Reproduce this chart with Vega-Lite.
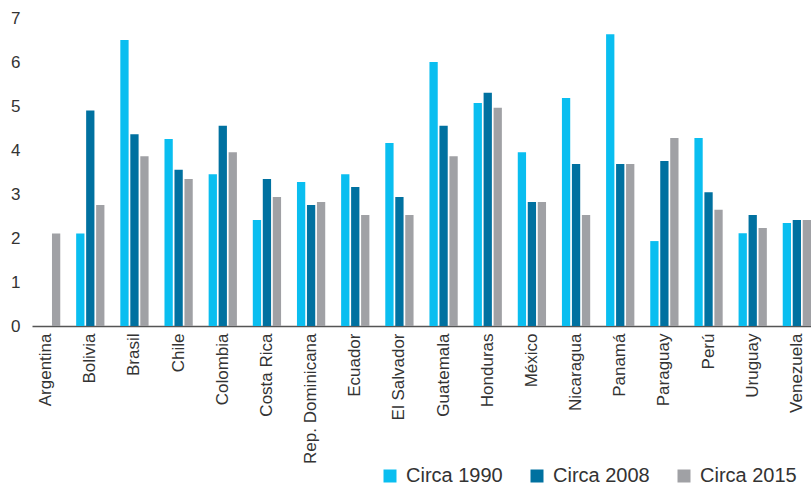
{
  "$schema": "https://vega.github.io/schema/vega-lite/v6.json",
  "width": 779,
  "height": 308,
  "autosize": {"type": "none"},
  "padding": {"left": 32, "top": 18, "right": 0, "bottom": 159},
  "background": "white",
  "config": {
    "view": {"stroke": null},
    "font": "Liberation Sans",
    "axis": {"labelColor": "#333333", "labelFont": "Liberation Sans"},
    "legend": {"labelColor": "#333333", "labelFont": "Liberation Sans"}
  },
  "data": {
    "values": [
      {"pais": "Argentina", "serie": "Circa 2015", "valor": 2.1},
      {"pais": "Bolivia", "serie": "Circa 1990", "valor": 2.1},
      {"pais": "Bolivia", "serie": "Circa 2008", "valor": 4.9},
      {"pais": "Bolivia", "serie": "Circa 2015", "valor": 2.75},
      {"pais": "Brasil", "serie": "Circa 1990", "valor": 6.5},
      {"pais": "Brasil", "serie": "Circa 2008", "valor": 4.36},
      {"pais": "Brasil", "serie": "Circa 2015", "valor": 3.86},
      {"pais": "Chile", "serie": "Circa 1990", "valor": 4.25},
      {"pais": "Chile", "serie": "Circa 2008", "valor": 3.55},
      {"pais": "Chile", "serie": "Circa 2015", "valor": 3.34},
      {"pais": "Colombia", "serie": "Circa 1990", "valor": 3.45},
      {"pais": "Colombia", "serie": "Circa 2008", "valor": 4.55},
      {"pais": "Colombia", "serie": "Circa 2015", "valor": 3.95},
      {"pais": "Costa Rica", "serie": "Circa 1990", "valor": 2.41},
      {"pais": "Costa Rica", "serie": "Circa 2008", "valor": 3.34},
      {"pais": "Costa Rica", "serie": "Circa 2015", "valor": 2.93},
      {"pais": "Rep. Dominicana", "serie": "Circa 1990", "valor": 3.27},
      {"pais": "Rep. Dominicana", "serie": "Circa 2008", "valor": 2.75},
      {"pais": "Rep. Dominicana", "serie": "Circa 2015", "valor": 2.82},
      {"pais": "Ecuador", "serie": "Circa 1990", "valor": 3.45},
      {"pais": "Ecuador", "serie": "Circa 2008", "valor": 3.16},
      {"pais": "Ecuador", "serie": "Circa 2015", "valor": 2.52},
      {"pais": "El Salvador", "serie": "Circa 1990", "valor": 4.16},
      {"pais": "El Salvador", "serie": "Circa 2008", "valor": 2.93},
      {"pais": "El Salvador", "serie": "Circa 2015", "valor": 2.52},
      {"pais": "Guatemala", "serie": "Circa 1990", "valor": 6.0},
      {"pais": "Guatemala", "serie": "Circa 2008", "valor": 4.55},
      {"pais": "Guatemala", "serie": "Circa 2015", "valor": 3.86},
      {"pais": "Honduras", "serie": "Circa 1990", "valor": 5.07},
      {"pais": "Honduras", "serie": "Circa 2008", "valor": 5.3},
      {"pais": "Honduras", "serie": "Circa 2015", "valor": 4.96},
      {"pais": "México", "serie": "Circa 1990", "valor": 3.95},
      {"pais": "México", "serie": "Circa 2008", "valor": 2.82},
      {"pais": "México", "serie": "Circa 2015", "valor": 2.82},
      {"pais": "Nicaragua", "serie": "Circa 1990", "valor": 5.18},
      {"pais": "Nicaragua", "serie": "Circa 2008", "valor": 3.68},
      {"pais": "Nicaragua", "serie": "Circa 2015", "valor": 2.52},
      {"pais": "Panamá", "serie": "Circa 1990", "valor": 6.63},
      {"pais": "Panamá", "serie": "Circa 2008", "valor": 3.68},
      {"pais": "Panamá", "serie": "Circa 2015", "valor": 3.68},
      {"pais": "Paraguay", "serie": "Circa 1990", "valor": 1.93},
      {"pais": "Paraguay", "serie": "Circa 2008", "valor": 3.75},
      {"pais": "Paraguay", "serie": "Circa 2015", "valor": 4.27},
      {"pais": "Perú", "serie": "Circa 1990", "valor": 4.27},
      {"pais": "Perú", "serie": "Circa 2008", "valor": 3.04},
      {"pais": "Perú", "serie": "Circa 2015", "valor": 2.64},
      {"pais": "Uruguay", "serie": "Circa 1990", "valor": 2.11},
      {"pais": "Uruguay", "serie": "Circa 2008", "valor": 2.52},
      {"pais": "Uruguay", "serie": "Circa 2015", "valor": 2.23},
      {"pais": "Venezuela", "serie": "Circa 1990", "valor": 2.34},
      {"pais": "Venezuela", "serie": "Circa 2008", "valor": 2.41},
      {"pais": "Venezuela", "serie": "Circa 2015", "valor": 2.41}
    ]
  },
  "mark": {"type": "bar"},
  "encoding": {
    "x": {
      "field": "pais",
      "type": "nominal",
      "sort": null,
      "scale": {"paddingInner": 0.36, "paddingOuter": 0},
      "axis": {
        "title": null,
        "labelAngle": -90,
        "labelFontSize": 17,
        "labelPadding": 7,
        "ticks": false,
        "domainColor": "#555555",
        "domainWidth": 1.5
      }
    },
    "xOffset": {
      "field": "serie",
      "type": "nominal",
      "sort": ["Circa 1990", "Circa 2008", "Circa 2015"],
      "scale": {"domain": ["Circa 1990", "Circa 2008", "Circa 2015"], "paddingInner": 0.17, "paddingOuter": 0}
    },
    "y": {
      "field": "valor",
      "type": "quantitative",
      "scale": {"domain": [0, 7], "nice": false},
      "axis": {
        "title": null,
        "values": [0, 1, 2, 3, 4, 5, 6, 7],
        "grid": false,
        "domain": false,
        "ticks": false,
        "labelFontSize": 17,
        "labelPadding": 12
      }
    },
    "color": {
      "field": "serie",
      "type": "nominal",
      "scale": {
        "domain": ["Circa 1990", "Circa 2008", "Circa 2015"],
        "range": ["#0abef0", "#0071a0", "#a0a1a5"]
      },
      "legend": {
        "title": null,
        "orient": "none",
        "direction": "horizontal",
        "legendX": 348,
        "legendY": 448,
        "symbolType": "square",
        "symbolSize": 169,
        "symbolStrokeWidth": 0,
        "labelFontSize": 20,
        "labelOffset": 6,
        "columnPadding": 24
      }
    }
  }
}
